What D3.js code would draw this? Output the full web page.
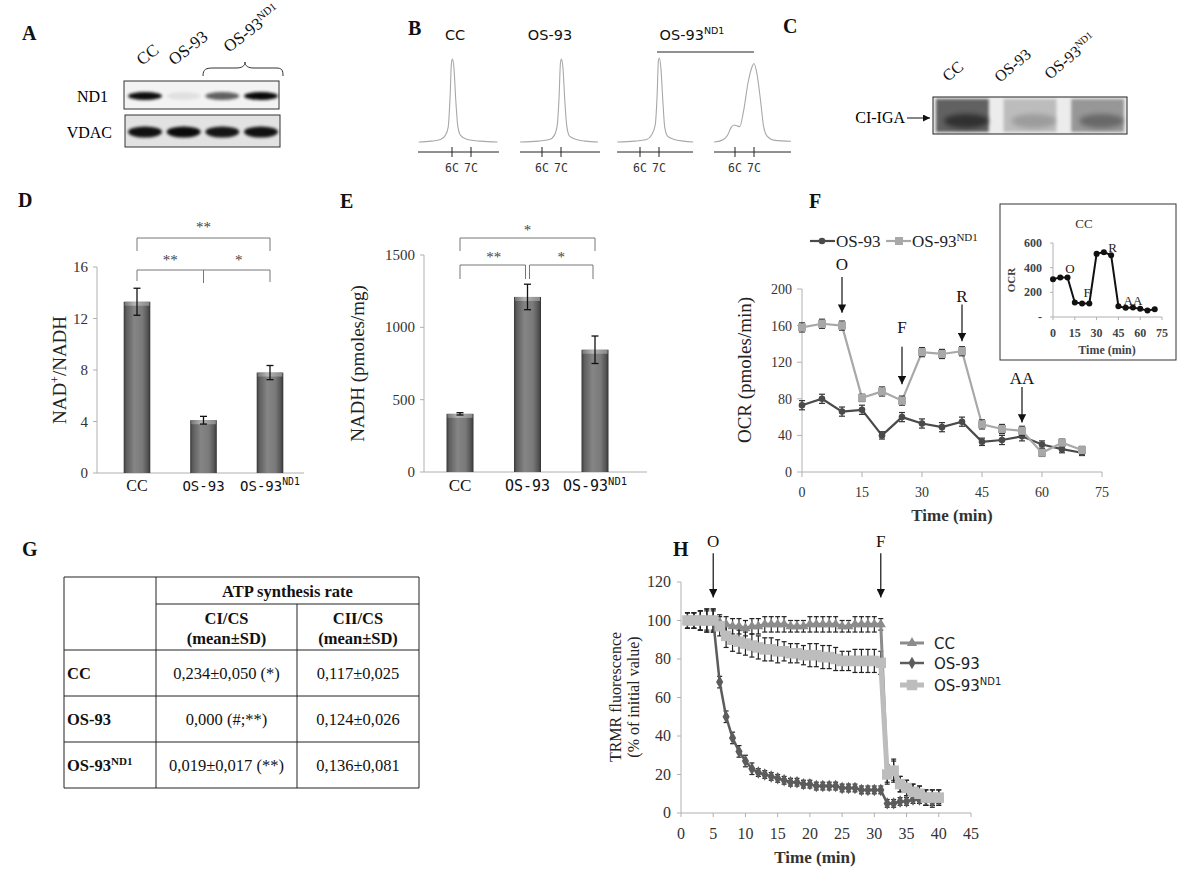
<!DOCTYPE html>
<html><head><meta charset="utf-8">
<script src="https://cdn.jsdelivr.net/npm/d3@7"></script>
<style>
body{margin:0;background:#fff}
svg{display:block;font-family:"Liberation Serif",serif}
.plabel{font-family:"Liberation Serif",serif;font-weight:bold;font-size:20px;fill:#111}
</style>
</head><body>
<svg id="fig" width="1200" height="883"></svg>
<script>
// ================= DATA =================
// Panel A – western blot (relative band signal)
const blotLanes = ["CC", "OS-93", "OS-93ND1 #1", "OS-93ND1 #2"];
const nd1Signal = [0.95, 0.07, 0.6, 0.97];
const vdacSignal = [0.92, 0.95, 0.9, 0.92];

// Panel B – cytofluorimetric DNA content profiles [C value, relative count]
const cytoTitles = ["CC", "OS-93", "OS-93ND1"];
const cytoTicks = [6, 7];
const cytoCC = [[4.25,0],[4.9,0.01],[5.4,0.03],[5.65,0.08],[5.8,0.18],[5.9,0.55],[5.97,0.95],[6.02,1.0],[6.1,0.9],[6.2,0.5],[6.3,0.2],[6.45,0.08],[6.8,0.03],[7.5,0.01],[8.4,0]];
const cytoOS93 = [[4.85,0],[5.8,0.01],[6.4,0.03],[6.65,0.08],[6.8,0.2],[6.9,0.55],[6.97,0.95],[7.02,1.0],[7.1,0.9],[7.2,0.5],[7.3,0.2],[7.45,0.07],[7.8,0.03],[8.3,0.01],[8.95,0]];
const cytoND1a = [[4.8,0],[5.7,0.01],[6.35,0.03],[6.6,0.08],[6.8,0.2],[6.9,0.55],[6.97,0.97],[7.02,1.0],[7.1,0.88],[7.2,0.5],[7.3,0.18],[7.45,0.07],[7.8,0.03],[8.3,0.01],[8.8,0]];
const cytoND1b = [[4.9,0],[5.3,0.02],[5.6,0.08],[5.8,0.18],[5.95,0.21],[6.1,0.2],[6.25,0.19],[6.45,0.38],[6.7,0.75],[6.9,0.93],[7.0,0.97],[7.15,0.85],[7.35,0.5],[7.5,0.2],[7.7,0.07],[8.1,0.02],[8.95,0.01]];

// Panel C – CI in-gel activity
const cigaLanes = ["CC", "OS-93", "OS-93ND1"];
const cigaSignal = [0.9, 0.3, 0.55];

// Panels D / E – bars
const groupBase = ["CC", "OS-93", "OS-93"];
const groupSup  = ["", "", "ND1"];
const nadRatio = [13.3, 4.1, 7.8];
const nadRatioErr = [1.05, 0.3, 0.55];
const nadRatioTicks = [0, 4, 8, 12, 16];
const nadRatioSig = ["**", "**", "*"];   // CC vs ND1 (top), CC vs OS-93, OS-93 vs ND1
const nadh = [402, 1210, 845];
const nadhErr = [8, 88, 95];
const nadhTicks = [0, 500, 1000, 1500];
const nadhSig = ["*", "**", "*"];

// Panel F – Seahorse OCR
const ocrTime = [0, 5, 10, 15, 20, 25, 30, 35, 40, 45, 50, 55, 60, 65, 70];
const ocrOS93 = [73, 80, 66, 68, 40, 60, 53, 49, 55, 33, 35, 39, 30, 25, 21];
const ocrOS93Err = [5, 5, 5, 5, 4, 5, 5, 5, 5, 4, 5, 5, 4, 4, 3];
const ocrND1 = [158, 162, 160, 81, 88, 78, 131, 129, 132, 52, 47, 45, 21, 32, 24];
const ocrND1Err = [5, 5, 5, 4, 5, 5, 5, 5, 5, 5, 5, 5, 4, 4, 4];
const ocrCC = [307, 320, 320, 118, 110, 110, 512, 526, 501, 88, 74, 77, 66, 52, 63];
const ocrTicksX = [0, 15, 30, 45, 60, 75];
const ocrTicksY = [0, 40, 80, 120, 160, 200];
const ocrCCTicksY = [0, 200, 400, 600];
const injLabels = ["O", "F", "R", "AA"];
const injTimes = [10, 25, 40, 55];

// Panel G – table
const tableRowBase = ["CC", "OS-93", "OS-93"];
const tableRowSup = ["", "", "ND1"];
const ciCs = ["0,234±0,050 (*)", "0,000 (#;**)", "0,019±0,017 (**)"];
const ciiCs = ["0,117±0,025", "0,124±0,026", "0,136±0,081"];

// Panel H – TMRM fluorescence
const trmrTime = [1,2,3,4,5,6,7,8,9,10,11,12,13,14,15,16,17,18,19,20,21,22,23,24,25,26,27,28,29,30,31,32,33,34,35,36,37,38,39,40];
const trmrCC   = [100,100,100,100,100,99,98,97,97,96,97,97,98,98,98,98,97,97,97,98,98,98,98,98,97,97,98,98,98,98,98,20,22,15,13,11,10,8,8,8];
const trmrCCErr= [4,4,5,6,6,4,4,4,4,4,4,4,4,4,4,4,3,3,3,4,4,4,4,4,3,3,4,4,4,4,3,4,5,4,4,4,4,4,4,4];
const trmrOS93 = [100,100,100,100,100,68,50,39,32,27,23,21,20,19,18,17,16,16,15,15,14,14,14,14,13,13,13,12,12,12,12,5,5,6,6,7,7,7,6,7];
const trmrOS93Err=[4,4,5,5,5,3,3,3,3,3,3,2,2,2,2,2,2,2,2,2,2,2,2,2,2,2,2,2,2,2,2,2,2,2,2,2,2,3,3,2];
const trmrND1  = [100,100,100,100,100,97,92,90,89,88,87,86,85,85,84,84,83,83,82,82,82,81,81,80,79,79,79,79,79,79,78,20,22,15,13,11,10,8,8,8];
const trmrND1Err=[4,4,5,6,6,5,6,6,6,6,6,6,6,6,6,5,5,5,5,6,6,6,6,6,5,5,6,6,6,6,6,5,6,4,4,4,4,4,4,4];
const trmrTicksX = [0,5,10,15,20,25,30,35,40,45];
const trmrTicksY = [0,20,40,60,80,100,120];
const trmrInjLabels = ["O", "F"];
const trmrInjTimes = [5, 31];

// ================= DRAWING =================
const svg = d3.select("#fig");
svg.append("rect").attr("width",1200).attr("height",883).attr("fill","#fff");
const defs = svg.append("defs");
[1,1.6,2.5,3.5].forEach((s,i)=>defs.append("filter").attr("id","blur"+i)
  .attr("x","-50%").attr("y","-50%").attr("width","200%").attr("height","200%")
  .append("feGaussianBlur").attr("stdDeviation",s));
defs.append("marker").attr("id","arr").attr("viewBox","0 0 10 10").attr("refX",10).attr("refY",5)
  .attr("markerWidth",7).attr("markerHeight",7).attr("orient","auto")
  .append("path").attr("d","M0,0 L10,5 L0,10 z").attr("fill","#111");
const bg = defs.append("linearGradient").attr("id","barGrad").attr("x1",0).attr("x2",1).attr("y1",0).attr("y2",0);
[[0,"#383838"],[0.1,"#5e5e5e"],[0.4,"#858585"],[0.7,"#7a7a7a"],[0.9,"#555"],[1,"#333"]]
  .forEach(([o,c])=>bg.append("stop").attr("offset",o).attr("stop-color",c));
const tg = defs.append("linearGradient").attr("id","topGrad").attr("x1",0).attr("x2",1).attr("y1",0).attr("y2",0);
[[0,"#777"],[0.4,"#b5b5b5"],[1,"#888"]].forEach(([o,c])=>tg.append("stop").attr("offset",o).attr("stop-color",c));

function label(sel, base, sup, supSize){
  sel.append("tspan").text(base);
  if (sup) sel.append("tspan").attr("font-size",supSize).attr("dy",-6).text(sup);
  return sel;
}
function panelLabel(t,x,y){ svg.append("text").attr("class","plabel").attr("x",x).attr("y",y).text(t); }

// ---------- A ----------
panelLabel("A",22,40);
{
  const lane = d3.scaleBand().domain(blotLanes).range([128,278]).paddingInner(0.12);
  const g = svg.append("g");
  const lab = [["CC",""],["OS-93",""],["OS-93","ND1"]];
  const labPos = [[142,66],[174,66],[229,53]];
  lab.forEach((l,i)=>{
    const t = g.append("text").attr("transform",`translate(${labPos[i][0]},${labPos[i][1]}) rotate(-38)`)
      .attr("font-size",17).attr("fill","#111");
    label(t,l[0],l[1],11);
  });
  g.append("path").attr("d","M203,76 C203,69 206,68 214,68 L236,68 C242,68 245,66 245,62 C245,66 248,68 254,68 L276,68 C282,68 283,70 283,76")
    .attr("fill","none").attr("stroke","#333").attr("stroke-width",1);
  g.append("rect").attr("x",124).attr("y",81).attr("width",155).attr("height",28).attr("fill","#f3f3f3").attr("stroke","#333");
  g.selectAll(".nd1").data(nd1Signal).join("ellipse")
    .attr("cx",(d,i)=>lane(blotLanes[i])+lane.bandwidth()/2).attr("cy",96)
    .attr("rx",lane.bandwidth()/2).attr("ry",4).attr("fill","#000").attr("opacity",d=>d)
    .attr("filter","url(#blur1)");
  g.append("rect").attr("x",125).attr("y",115).attr("width",155).attr("height",32).attr("fill","#e2e2e2").attr("stroke","#333");
  g.selectAll(".vd").data(vdacSignal).join("ellipse")
    .attr("cx",(d,i)=>lane(blotLanes[i])+lane.bandwidth()/2).attr("cy",132)
    .attr("rx",lane.bandwidth()/2).attr("ry",5.5).attr("fill","#000").attr("opacity",d=>d)
    .attr("filter","url(#blur1)");
  g.append("text").attr("x",108).attr("y",102).attr("text-anchor","end").attr("font-size",16).text("ND1");
  g.append("text").attr("x",112).attr("y",138).attr("text-anchor","end").attr("font-size",16).text("VDAC");
}

// ---------- B ----------
panelLabel("B",408,35);
{
  const g = svg.append("g");
  const profiles = [cytoCC, cytoOS93, cytoND1a, cytoND1b];
  const six = [452, 542, 640, 735];
  const axisExt = [[418,499],[520,600],[617,693],[714,791]];
  const peakTop = [59, 59, 58, 61];
  profiles.forEach((p,i)=>{
    const x = d3.scaleLinear().domain([6,7]).range([six[i], six[i]+19]);
    const y = d3.scaleLinear().domain([0,1]).range([142, peakTop[i]]);
    g.append("path").datum(p).attr("fill","none").attr("stroke","#a8a8a8").attr("stroke-width",1.1)
      .attr("d", d3.line().x(d=>x(d[0])).y(d=>y(d[1])).curve(d3.curveMonotoneX));
    g.append("line").attr("x1",axisExt[i][0]).attr("x2",axisExt[i][1]).attr("y1",152).attr("y2",152).attr("stroke","#222");
    cytoTicks.forEach(t=>{
      g.append("line").attr("x1",x(t)).attr("x2",x(t)).attr("y1",147).attr("y2",157).attr("stroke","#222");
      g.append("text").attr("x",x(t)).attr("y",172).attr("text-anchor","middle")
        .attr("font-family","DejaVu Sans Mono").attr("font-size",11.5).attr("fill","#333").text(t+"C");
    });
  });
  const tpos = [455, 550, 692];
  cytoTitles.forEach((t,i)=>{
    const tx = g.append("text").attr("x",tpos[i]).attr("y",40).attr("text-anchor","middle")
      .attr("font-family","DejaVu Sans").attr("font-size",14.5).attr("fill","#111");
    if (i===2) label(tx,"OS-93","ND1",9.5); else tx.text(t);
  });
  g.append("line").attr("x1",657).attr("x2",754).attr("y1",52).attr("y2",52).attr("stroke","#222");
}

// ---------- C ----------
panelLabel("C",783,33);
{
  const g = svg.append("g");
  const lane = d3.scaleBand().domain(cigaLanes).range([936,1124]).paddingInner(0.22);
  g.append("rect").attr("x",933).attr("y",97).attr("width",194).attr("height",37).attr("fill","#ececec");
  cigaSignal.forEach((s,i)=>{
    const x0 = lane(cigaLanes[i]), w = lane.bandwidth();
    g.append("rect").attr("x",x0).attr("y",99).attr("width",w).attr("height",33)
      .attr("fill","#000").attr("opacity",s*0.65).attr("filter","url(#blur1)");
    g.append("ellipse").attr("cx",x0+w/2+4).attr("cy",121).attr("rx",w/2-4).attr("ry",7)
      .attr("fill","#000").attr("opacity",s*0.55).attr("filter","url(#blur2)");
  });
  g.append("rect").attr("x",933).attr("y",97).attr("width",194).attr("height",37).attr("fill","none").attr("stroke","#222");
  const lab = [["CC",""],["OS-93",""],["OS-93","ND1"]];
  const labPos = [[948,82],[1000,83],[1050,80]];
  lab.forEach((l,i)=>{
    const t = g.append("text").attr("transform",`translate(${labPos[i][0]},${labPos[i][1]}) rotate(-40)`)
      .attr("font-size",16).attr("fill","#111");
    label(t,l[0],l[1],10);
  });
  g.append("text").attr("x",905).attr("y",123).attr("text-anchor","end").attr("font-size",16).text("CI-IGA");
  g.append("line").attr("x1",907).attr("x2",930).attr("y1",118).attr("y2",118).attr("stroke","#111").attr("marker-end","url(#arr)");
}

// ---------- bar chart helper ----------
function barChart(o){
  const g = svg.append("g");
  const y = d3.scaleLinear().domain(o.domain).range([o.y0, o.y1]);
  const x = d3.scaleBand().domain(d3.range(o.values.length)).range(o.bandRange).paddingInner(0.6).paddingOuter(0.3);
  g.append("line").attr("x1",o.axisX).attr("x2",o.axisX).attr("y1",o.y1).attr("y2",o.y0).attr("stroke","#b0b0b0");
  g.append("line").attr("x1",o.axisX).attr("x2",o.axisEnd).attr("y1",o.y0).attr("y2",o.y0).attr("stroke","#b0b0b0");
  o.ticks.forEach(t=>{
    g.append("line").attr("x1",o.axisX-4).attr("x2",o.axisX).attr("y1",y(t)).attr("y2",y(t)).attr("stroke","#b0b0b0");
    g.append("text").attr("x",o.axisX-9).attr("y",y(t)+5).attr("text-anchor","end").attr("font-size",15).attr("fill","#333").text(t);
  });
  o.values.forEach((v,i)=>{
    const bx = x(i), bw = x.bandwidth();
    g.append("rect").attr("x",bx).attr("y",y(v)).attr("width",bw).attr("height",o.y0-y(v)).attr("fill","url(#barGrad)");
    g.append("rect").attr("x",bx+1).attr("y",y(v)).attr("width",bw-2).attr("height",4).attr("fill","url(#topGrad)");
    const cx = bx+bw/2;
    g.append("line").attr("x1",cx).attr("x2",cx).attr("y1",y(v+o.err[i])).attr("y2",y(v-o.err[i])).attr("stroke","#111").attr("stroke-width",1.3);
    [v+o.err[i], v-o.err[i]].forEach(e=>g.append("line").attr("x1",cx-3.5).attr("x2",cx+3.5).attr("y1",y(e)).attr("y2",y(e)).attr("stroke","#111").attr("stroke-width",1.3));
    const t = g.append("text").attr("x",cx).attr("y",o.labelY).attr("text-anchor","middle").attr("fill","#111");
    if (groupBase[i]==="CC") t.attr("font-size",o.catSize+2).text("CC");
    else { t.attr("font-family","DejaVu Sans Mono").attr("font-size",o.catSize); label(t,groupBase[i],groupSup[i],o.catSize*0.7); }
  });
  g.append("text").attr("transform",`translate(${o.ylabX},${(o.y0+o.y1)/2}) rotate(-90)`).attr("text-anchor","middle")
    .attr("font-size",19).attr("fill","#222").call(o.ylab);
  return {g,x,y};
}
function bracket(g,x1,x2,y,drop,stroke){
  g.append("path").attr("d",`M${x1},${y+drop} V${y} H${x2} V${y+drop}`).attr("fill","none").attr("stroke",stroke||"#777");
}

// ---------- D ----------
panelLabel("D",18,207);
{
  const r = barChart({values:nadRatio, err:nadRatioErr, domain:[0,16], y0:473, y1:267, bandRange:[103.75,303.25],
    axisX:97, axisEnd:304, ticks:nadRatioTicks, labelY:491, catSize:14, ylabX:66,
    ylab: t=>{ t.append("tspan").text("NAD"); t.append("tspan").attr("font-size",12).attr("dy",-7).text("+");
               t.append("tspan").attr("dy",7).text("/NADH"); }});
  const c = i=>r.x(i)+r.x.bandwidth()/2;
  bracket(r.g,c(0),c(2),238,13);
  r.g.append("text").attr("x",(c(0)+c(2))/2).attr("y",232).attr("text-anchor","middle").attr("font-size",15).attr("fill","#444").text(nadRatioSig[0]);
  r.g.append("path").attr("d",`M${c(0)},281 V270 H${c(2)} V282 M${c(1)},270 V283`).attr("fill","none").attr("stroke","#777");
  r.g.append("text").attr("x",(c(0)+c(1))/2).attr("y",265).attr("text-anchor","middle").attr("font-size",15).attr("fill","#444").text(nadRatioSig[1]);
  r.g.append("text").attr("x",(c(1)+c(2))/2+2).attr("y",265).attr("text-anchor","middle").attr("font-size",15).attr("fill","#444").text(nadRatioSig[2]);
}

// ---------- E ----------
panelLabel("E",340,208);
{
  const r = barChart({values:nadh, err:nadhErr, domain:[0,1500], y0:472, y1:255, bandRange:[426.25,628.75],
    axisX:424, axisEnd:647, ticks:nadhTicks, labelY:491, catSize:15, ylabX:364,
    ylab: t=>t.text("NADH (pmoles/mg)")});
  const c = i=>r.x(i)+r.x.bandwidth()/2;
  bracket(r.g,c(0),c(2),238,13);
  r.g.append("text").attr("x",(c(0)+c(2))/2).attr("y",235).attr("text-anchor","middle").attr("font-size",15).attr("fill","#444").text(nadhSig[0]);
  bracket(r.g,c(0),c(1)-2,265,14);
  bracket(r.g,c(1)+2,c(2)-2,265,14);
  r.g.append("text").attr("x",(c(0)+c(1))/2).attr("y",262).attr("text-anchor","middle").attr("font-size",15).attr("fill","#444").text(nadhSig[1]);
  r.g.append("text").attr("x",(c(1)+c(2))/2).attr("y",262).attr("text-anchor","middle").attr("font-size",15).attr("fill","#444").text(nadhSig[2]);
}

// ---------- F ----------
panelLabel("F",809,208);
{
  const g = svg.append("g");
  const x = d3.scaleLinear().domain([0,75]).range([802,1102]);
  const y = d3.scaleLinear().domain([0,200]).range([472,289]);
  g.append("line").attr("x1",802).attr("x2",802).attr("y1",289).attr("y2",472).attr("stroke","#b0b0b0");
  g.append("line").attr("x1",802).attr("x2",1102).attr("y1",472).attr("y2",472).attr("stroke","#b0b0b0");
  ocrTicksY.forEach(t=>{
    g.append("line").attr("x1",797).attr("x2",802).attr("y1",y(t)).attr("y2",y(t)).attr("stroke","#b0b0b0");
    g.append("text").attr("x",792).attr("y",y(t)+5).attr("text-anchor","end").attr("font-size",14).attr("fill","#333").text(t);
  });
  ocrTicksX.forEach(t=>{
    g.append("line").attr("x1",x(t)).attr("x2",x(t)).attr("y1",472).attr("y2",477).attr("stroke","#b0b0b0");
    g.append("text").attr("x",x(t)).attr("y",497).attr("text-anchor","middle").attr("font-size",14).attr("fill","#333").text(t);
  });
  g.append("text").attr("x",952).attr("y",521).attr("text-anchor","middle").attr("font-size",17).attr("font-weight","bold").attr("fill","#333").text("Time (min)");
  g.append("text").attr("transform",`translate(751,370) rotate(-90)`).attr("text-anchor","middle").attr("font-size",19).attr("fill","#222").text("OCR (pmoles/min)");
  const series = [
    {v:ocrOS93, e:ocrOS93Err, c:"#4a4a4a", m:"circle"},
    {v:ocrND1, e:ocrND1Err, c:"#a8a8a8", m:"square"}];
  series.forEach(s=>{
    g.append("path").datum(s.v).attr("fill","none").attr("stroke",s.c).attr("stroke-width",2.2)
      .attr("d", d3.line().x((d,i)=>x(ocrTime[i])).y(d=>y(d)));
    s.v.forEach((v,i)=>{
      const cx = x(ocrTime[i]);
      g.append("line").attr("x1",cx).attr("x2",cx).attr("y1",y(v+s.e[i])).attr("y2",y(v-s.e[i])).attr("stroke","#333").attr("stroke-width",1.2);
      [v+s.e[i],v-s.e[i]].forEach(e=>g.append("line").attr("x1",cx-3).attr("x2",cx+3).attr("y1",y(e)).attr("y2",y(e)).attr("stroke","#333").attr("stroke-width",1.2));
      if (s.m==="circle") g.append("circle").attr("cx",cx).attr("cy",y(v)).attr("r",3.3).attr("fill",s.c);
      else g.append("rect").attr("x",cx-4).attr("y",y(v)-4).attr("width",8).attr("height",8).attr("fill",s.c);
    });
  });
  const arrTop = [213, 137, 183, 93], arrTip = [174, 96, 143, 54], labY = [270, 333, 302, 384];
  injLabels.forEach((l,i)=>{
    const ax = x(injTimes[i]);
    g.append("line").attr("x1",ax).attr("x2",ax).attr("y1",y(arrTop[i])).attr("y2",y(arrTip[i])).attr("stroke","#111").attr("stroke-width",1.2).attr("marker-end","url(#arr)");
    g.append("text").attr("x",ax).attr("y",labY[i]).attr("text-anchor","middle").attr("font-size",17).attr("fill","#111").text(l);
  });
  g.append("line").attr("x1",810).attr("x2",835).attr("y1",241).attr("y2",241).attr("stroke","#4a4a4a").attr("stroke-width",2.2);
  g.append("circle").attr("cx",822).attr("cy",241).attr("r",3.3).attr("fill","#4a4a4a");
  g.append("text").attr("x",836).attr("y",247).attr("font-size",17).attr("fill","#222").text("OS-93");
  g.append("line").attr("x1",886).attr("x2",911).attr("y1",241).attr("y2",241).attr("stroke","#a8a8a8").attr("stroke-width",2.2);
  g.append("rect").attr("x",895).attr("y",237).attr("width",8).attr("height",8).attr("fill","#a8a8a8");
  label(g.append("text").attr("x",912).attr("y",247).attr("font-size",17).attr("fill","#222"),"OS-93","ND1",11);

  // inset
  const xi = d3.scaleLinear().domain([0,75]).range([1053,1162]);
  const yi = d3.scaleLinear().domain([0,600]).range([317,243]);
  g.append("rect").attr("x",1000).attr("y",204).attr("width",176).attr("height",156).attr("fill","#fff").attr("stroke","#333");
  g.append("text").attr("x",1084).attr("y",228).attr("text-anchor","middle").attr("font-size",13).attr("fill","#333").text("CC");
  g.append("line").attr("x1",1053).attr("x2",1053).attr("y1",243).attr("y2",317).attr("stroke","#b0b0b0");
  g.append("line").attr("x1",1053).attr("x2",1162).attr("y1",317).attr("y2",317).attr("stroke","#b0b0b0");
  ocrCCTicksY.forEach(t=>{
    g.append("line").attr("x1",1050).attr("x2",1053).attr("y1",yi(t)).attr("y2",yi(t)).attr("stroke","#b0b0b0");
    g.append("text").attr("x",1042).attr("y",yi(t)+4).attr("text-anchor","end").attr("font-size",12).attr("font-weight","bold").attr("fill","#444").text(t===0?"-":t);
  });
  ocrTicksX.forEach(t=>{
    g.append("line").attr("x1",xi(t)).attr("x2",xi(t)).attr("y1",317).attr("y2",320).attr("stroke","#b0b0b0");
    g.append("text").attr("x",xi(t)).attr("y",337).attr("text-anchor","middle").attr("font-size",12).attr("font-weight","bold").attr("fill","#444").text(t);
  });
  g.append("text").attr("x",1107).attr("y",354).attr("text-anchor","middle").attr("font-size",12).attr("font-weight","bold").attr("fill","#444").text("Time (min)");
  g.append("text").attr("transform","translate(1015,280) rotate(-90)").attr("text-anchor","middle").attr("font-size",11).attr("font-weight","bold").attr("fill","#444").text("OCR");
  g.append("path").datum(ocrCC).attr("fill","none").attr("stroke","#111").attr("stroke-width",2)
    .attr("d", d3.line().x((d,i)=>xi(ocrTime[i])).y(d=>yi(d)));
  ocrCC.forEach((v,i)=>g.append("circle").attr("cx",xi(ocrTime[i])).attr("cy",yi(v)).attr("r",3).attr("fill","#111"));
  const insLab = [[11.7,397],[23.4,203],[41,568],[55,138]];
  injLabels.forEach((l,i)=>g.append("text").attr("x",xi(insLab[i][0])).attr("y",yi(insLab[i][1])+5).attr("text-anchor","middle").attr("font-size",13).attr("fill","#222").text(l));
}

// ---------- G ----------
panelLabel("G",22,556);
{
  const g = svg.append("g").attr("font-family","Liberation Serif");
  const L=64, C1=156, C2=297, R=419;
  const rowY = [577, 604, 650, 696, 742, 788];
  const ln = (x1,y1,x2,y2)=>g.append("line").attr("x1",x1).attr("y1",y1).attr("x2",x2).attr("y2",y2).attr("stroke","#222").attr("stroke-width",1);
  ln(L,rowY[0],R,rowY[0]); ln(C1,rowY[1],R,rowY[1]);
  rowY.slice(2).forEach(yy=>ln(L,yy,R,yy));
  ln(L,rowY[0],L,788); ln(C1,rowY[0],C1,788); ln(C2,rowY[1],C2,788); ln(R,rowY[0],R,788);
  const t = (x,y,s,bold,anchor)=>g.append("text").attr("x",x).attr("y",y).attr("text-anchor",anchor||"middle")
    .attr("font-size",16.5).attr("font-weight",bold?"bold":"normal").attr("fill","#111").text(s);
  t((C1+R)/2,597,"ATP synthesis rate",true);
  t((C1+C2)/2,624,"CI/CS",true); t((C1+C2)/2,644,"(mean±SD)",true);
  t((C2+R)/2,624,"CII/CS",true); t((C2+R)/2,644,"(mean±SD)",true);
  tableRowBase.forEach((b,i)=>{
    const yy = (rowY[i+2]+rowY[i+3])/2+6;
    const tx = g.append("text").attr("x",67).attr("y",yy).attr("font-size",16.5).attr("font-weight","bold").attr("fill","#111");
    label(tx,b,tableRowSup[i],11);
    t((C1+C2)/2,yy,ciCs[i],false);
    t((C2+R)/2,yy,ciiCs[i],false);
  });
}

// ---------- H ----------
panelLabel("H",673,556);
{
  const g = svg.append("g");
  const x = d3.scaleLinear().domain([0,45]).range([681,971]);
  const y = d3.scaleLinear().domain([0,120]).range([813,582]);
  g.append("line").attr("x1",681).attr("x2",681).attr("y1",582).attr("y2",813).attr("stroke","#b0b0b0");
  g.append("line").attr("x1",681).attr("x2",971).attr("y1",813).attr("y2",813).attr("stroke","#b0b0b0");
  trmrTicksY.forEach(t=>{
    g.append("line").attr("x1",677).attr("x2",681).attr("y1",y(t)).attr("y2",y(t)).attr("stroke","#b0b0b0");
    g.append("text").attr("x",671).attr("y",y(t)+5).attr("text-anchor","end").attr("font-size",16).attr("fill","#333").text(t);
  });
  trmrTicksX.forEach(t=>{
    g.append("line").attr("x1",x(t)).attr("x2",x(t)).attr("y1",813).attr("y2",817).attr("stroke","#b0b0b0");
    g.append("text").attr("x",x(t)).attr("y",839).attr("text-anchor","middle").attr("font-size",16).attr("fill","#333").text(t);
  });
  g.append("text").attr("x",815).attr("y",863).attr("text-anchor","middle").attr("font-size",17).attr("font-weight","bold").attr("fill","#333").text("Time (min)");
  g.append("text").attr("transform","translate(621,697) rotate(-90)").attr("text-anchor","middle").attr("font-size",16).attr("fill","#222").text("TRMR fluorescence");
  g.append("text").attr("transform","translate(639,697) rotate(-90)").attr("text-anchor","middle").attr("font-size",16).attr("fill","#222").text("(% of initial value)");
  const sym = {tri:d3.symbolTriangle, dia:d3.symbolDiamond, sq:d3.symbolSquare};
  const series = [
    {v:trmrCC, e:trmrCCErr, c:"#8c8c8c", w:3, s:"tri", size:45},
    {v:trmrOS93, e:trmrOS93Err, c:"#5c5c5c", w:2.5, s:"dia", size:45},
    {v:trmrND1, e:trmrND1Err, c:"#bdbdbd", w:5, s:"sq", size:110}];
  series.forEach(s=>{
    s.v.forEach((v,i)=>{
      const cx = x(trmrTime[i]);
      g.append("line").attr("x1",cx).attr("x2",cx).attr("y1",y(v+s.e[i])).attr("y2",y(v-s.e[i])).attr("stroke","#222").attr("stroke-width",1.2);
      [v+s.e[i],v-s.e[i]].forEach(e=>g.append("line").attr("x1",cx-2.5).attr("x2",cx+2.5).attr("y1",y(e)).attr("y2",y(e)).attr("stroke","#222").attr("stroke-width",1.2));
    });
  });
  series.forEach(s=>{
    g.append("path").datum(s.v).attr("fill","none").attr("stroke",s.c).attr("stroke-width",s.w)
      .attr("d", d3.line().x((d,i)=>x(trmrTime[i])).y(d=>y(d)));
    s.v.forEach((v,i)=>g.append("path").attr("transform",`translate(${x(trmrTime[i])},${y(v)})`)
      .attr("d",d3.symbol().type(sym[s.s]).size(s.size)()).attr("fill",s.c));
  });
  const arrTop = [135, 135], arrTip = [112, 112];
  trmrInjLabels.forEach((l,i)=>{
    const ax = x(trmrInjTimes[i]);
    g.append("line").attr("x1",ax).attr("x2",ax).attr("y1",y(arrTop[i])).attr("y2",y(arrTip[i])).attr("stroke","#111").attr("stroke-width",1.2).attr("marker-end","url(#arr)");
    g.append("text").attr("x",ax).attr("y",y(arrTop[i])-6).attr("text-anchor","middle").attr("font-size",17).attr("fill","#111").text(l);
  });
  const names = [["CC",""],["OS-93",""],["OS-93","ND1"]];
  const ly = [643, 663, 685];
  series.forEach((s,i)=>{
    g.append("line").attr("x1",900).attr("x2",924).attr("y1",ly[i]).attr("y2",ly[i]).attr("stroke",s.c).attr("stroke-width",s.w);
    g.append("path").attr("transform",`translate(912,${ly[i]})`).attr("d",d3.symbol().type(sym[s.s]).size(s.size)()).attr("fill",s.c);
    label(g.append("text").attr("x",934).attr("y",ly[i]+6).attr("font-family","DejaVu Sans").attr("font-size",15).attr("fill","#222"),names[i][0],names[i][1],10);
  });
}
</script>
</body></html>
